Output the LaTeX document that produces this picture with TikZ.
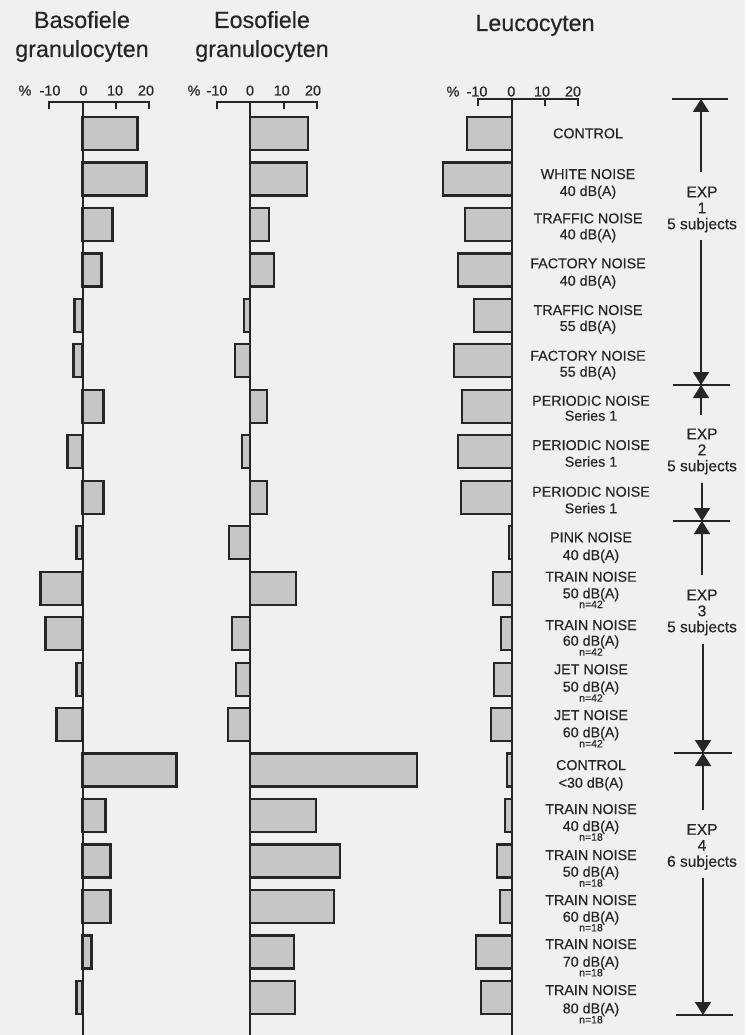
\documentclass[tikz,border=0pt]{standalone}
\usepackage{fontspec}
\setmainfont{Liberation Sans}[FakeBold=0.35]
\usetikzlibrary{arrows.meta}
\definecolor{ink}{RGB}{38,38,38}
\definecolor{bg}{RGB}{240,240,240}
\definecolor{barfill}{RGB}{198,198,198}
\begin{document}
\begin{tikzpicture}[x=1pt,y=-1pt,
  bar/.style={draw=ink, line width=2.2pt, fill=barfill},
  axisline/.style={draw=ink, line width=2pt},
  lab/.style={text=ink, font=\fontsize{14.3}{17}\selectfont, inner sep=0pt, anchor=base},
  nlab/.style={text=ink, font=\fontsize{10.5}{12}\selectfont, inner sep=0pt, anchor=base},
  ttl/.style={text=ink, font=\fontsize{23.3}{28}\selectfont, inner sep=0pt, anchor=base},
  axlab/.style={text=ink, font=\fontsize{14.4}{17}\selectfont, inner sep=0pt, anchor=base},
  expl/.style={text=ink, font=\fontsize{15.5}{16}\selectfont, align=center, inner sep=0pt},
  brk/.style={draw=ink, line width=1.8pt},
  arr/.style={draw=ink, line width=1.8pt, -{Triangle[length=13pt,width=16pt]}}]
\useasboundingbox (0,0) rectangle (745,1035);
\fill[bg] (0,0) rectangle (745,1035);

% titles
\node[ttl] (t1a) at (82,28) {Basofiele};
\node[ttl] (t1b) at (82,57) {granulocyten};
\node[ttl] (t2a) at (262,28) {Eosofiele};
\node[ttl] (t2b) at (262,57) {granulocyten};
\node[ttl] (t3a) at (535,31) {Leucocyten};

% axis labels
\foreach \n/\x/\t in {a1/25/\%, a2/50/-10, a3/83.5/0, a4/115/10, a5/146/20,
                      b1/194/\%, b2/217/-10, b3/250/0, b4/281.7/10, b5/313/20}
  \node[axlab] (\n) at (\x,95.5) {\t};
\foreach \n/\x/\t in {c1/453/\%, c2/477/-10, c3/511.3/0, c4/542/10, c5/573/20}
  \node[axlab] (\n) at (\x,96.5) {\t};

% bars panel 1
\foreach \v [count=\i from 0] in {55,64,30,19,-8,-9,21,-15,21,-6,-42,-37,-6,-26,94,23,28,28,9,-6}
  \draw[bar] (82.5,{117+45.47*\i}) rectangle ++(\v,33);
% bars panel 2
\foreach \v [count=\i from 0] in {58,57,19,24,-6,-15,17,-8,17,-21,46,-18,-14,-22,167,66,90,84,44,45}
  \draw[bar] (250,{117+45.47*\i}) rectangle ++(\v,33);
% bars panel 3
\foreach \v [count=\i from 0] in {-45,-69,-47,-54,-38,-58,-50,-54,-51,-3,-19,-11,-18,-21,-5,-7,-15,-12,-36,-31}
  \draw[bar] (512,{117+45.47*\i}) rectangle ++(\v,33);

% axes
\draw[axisline] (49,102) -- (149,102);
\draw[axisline] (82.5,102) -- (82.5,1035);
\foreach \x in {49,116,149} \draw[axisline] (\x,101) -- (\x,109);
\draw[axisline] (216.5,102) -- (316.5,102);
\draw[axisline] (250,102) -- (250,1035);
\foreach \x in {216.5,283.5,316.5} \draw[axisline] (\x,101) -- (\x,109);
\draw[axisline] (478,99) -- (578,99);
\draw[axisline] (512,99) -- (512,1035);
\foreach \x in {478,545,578} \draw[axisline] (\x,98) -- (\x,106);

% condition labels
\foreach \n/\x/\y/\t in {
  r0a/588/133.3/CONTROL,
  r1a/588/174/WHITE NOISE, r1b/588/191/40 dB(A),
  r2a/588/218.3/TRAFFIC NOISE, r2b/588/234.3/40 dB(A),
  r3a/588/263.3/FACTORY NOISE, r3b/588/280.7/40 dB(A),
  r4a/588/310/TRAFFIC NOISE, r4b/588/326/55 dB(A),
  r5a/588/355.7/FACTORY NOISE, r5b/588/371.7/55 dB(A),
  r6a/591/400.7/PERIODIC NOISE, r6b/591/415.7/Series 1,
  r7a/591/445/PERIODIC NOISE, r7b/591/461.7/Series 1,
  r8a/591/491.7/PERIODIC NOISE, r8b/591/508.3/Series 1,
  r9a/591/537.3/PINK NOISE, r9b/591/555/40 dB(A),
  r10a/591/576.7/TRAIN NOISE, r10b/591/593.3/50 dB(A),
  r11a/591/625/TRAIN NOISE, r11b/591/640.7/60 dB(A),
  r12a/591/669.3/JET NOISE, r12b/591/686.7/50 dB(A),
  r13a/591/715/JET NOISE, r13b/591/732.3/60 dB(A),
  r14a/591/765/CONTROL, r14b/591/782.7/<30 dB(A),
  r15a/591/809/TRAIN NOISE, r15b/591/826/40 dB(A),
  r16a/591/855/TRAIN NOISE, r16b/591/871.7/50 dB(A),
  r17a/591/900/TRAIN NOISE, r17b/591/916.7/60 dB(A),
  r18a/591/944/TRAIN NOISE, r18b/591/961.7/70 dB(A),
  r19a/591/990/TRAIN NOISE, r19b/591/1008.3/80 dB(A)}
  \node[lab] (\n) at ({\x},{\y+5}) {\t};
\foreach \n/\y/\t in {
  r10c/604/n=42, r11c/651.7/n=42, r12c/697.7/n=42, r13c/743.3/n=42,
  r15c/836.7/n=18, r16c/882.7/n=18, r17c/927.3/n=18, r18c/972.3/n=18, r19c/1019.3/n=18}
  \node[nlab] (\n) at (591,{\y+4}) {\t};

% experiment brackets
\node[expl] (e1) at (702,209.5) {EXP\\1\\5 subjects};
\node[expl] (e2) at (702,451.5) {EXP\\2\\5 subjects};
\node[expl] (e3) at (702,612.5) {EXP\\3\\5 subjects};
\node[expl] (e4) at (702,847) {EXP\\4\\6 subjects};

\coordinate (d0l) at (672,99);  \coordinate (d0r) at (728,99);  \coordinate (d0) at (701,99);
\coordinate (d1l) at (673,385); \coordinate (d1r) at (730,385); \coordinate (d1) at (701,385);
\coordinate (d2l) at (673,521); \coordinate (d2r) at (730,521); \coordinate (d2) at (702,521);
\coordinate (d3l) at (674,753); \coordinate (d3r) at (732,753); \coordinate (d3) at (703,753);
\coordinate (d4l) at (676,1015); \coordinate (d4r) at (733,1015); \coordinate (d4) at (703,1015);

\draw[brk] (d0l) -- (d0r);
\draw[brk] (d1l) -- (d1r);
\draw[brk] (d2l) -- (d2r);
\draw[brk] (d3l) -- (d3r);
\draw[brk] (d4l) -- (d4r);

\coordinate (s1a) at (701,172); \coordinate (s1b) at (701,240);
\coordinate (s2a) at (701,415); \coordinate (s2b) at (702,483);
\coordinate (s3a) at (702,575); \coordinate (s3b) at (703,644);
\coordinate (s4a) at (703,810); \coordinate (s4b) at (703,878);

\draw[arr] (s1a) -- (d0);
\draw[arr] (s1b) -- (d1);
\draw[arr] (s2a) -- (d1);
\draw[arr] (s2b) -- (d2);
\draw[arr] (s3a) -- (d2);
\draw[arr] (s3b) -- (d3);
\draw[arr] (s4a) -- (d3);
\draw[arr] (s4b) -- (d4);
\end{tikzpicture}
\end{document}
